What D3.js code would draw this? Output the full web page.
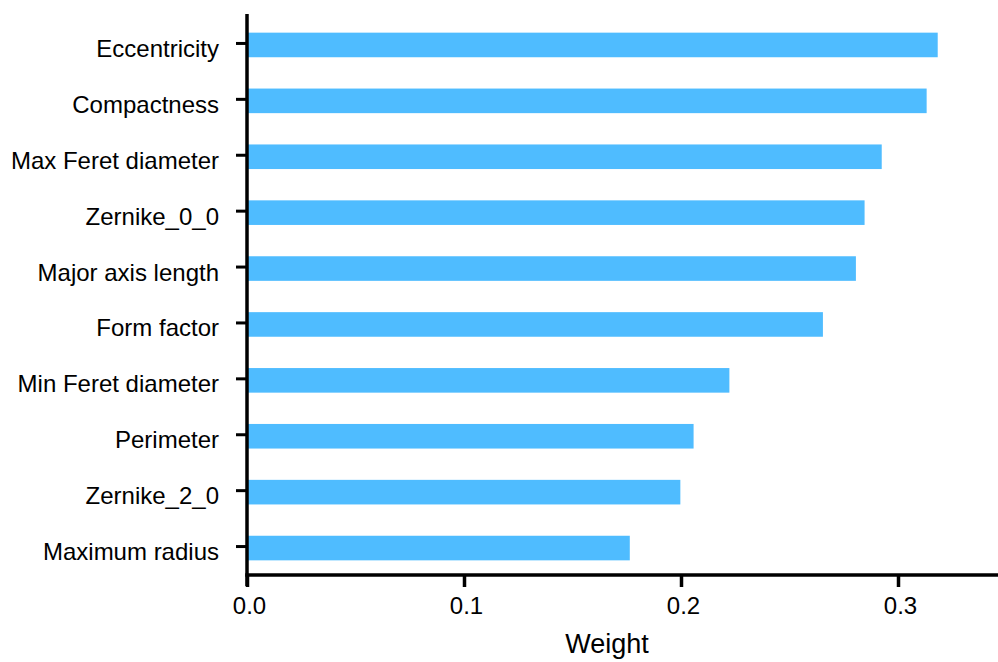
<!DOCTYPE html>
<html>
<head>
<meta charset="utf-8">
<script src="https://cdn.jsdelivr.net/npm/d3@7"></script>
<style>
  body { margin: 0; background: #fff; }
  text { font-family: "Liberation Sans", Arial, sans-serif; fill: #000; }
</style>
</head>
<body>
<div id="chart"></div>
<script>
// feature names, top to bottom
const features = ["Eccentricity", "Compactness", "Max Feret diameter", "Zernike_0_0",
  "Major axis length", "Form factor", "Min Feret diameter", "Perimeter",
  "Zernike_2_0", "Maximum radius"];
const weights = [0.3183, 0.3132, 0.2925, 0.2846, 0.2806, 0.2654, 0.2223, 0.2058, 0.1997, 0.1764];
const xTicks = [0.0, 0.1, 0.2, 0.3];

const width = 998, height = 662;
const plotLeft = 247, plotRight = 998, plotTop = 17, plotBottom = 576;

const svg = d3.select('#chart').append('svg')
    .attr('width', width)
    .attr('height', height);

const x = d3.scaleLinear().domain([0, 0.3]).range([plotLeft, 898]);
const y = d3.scaleBand().domain(features).range([plotTop, plotBottom])
    .paddingInner(0.56).paddingOuter(0.28);

// bars
svg.append('g').selectAll('rect')
    .data(features)
    .enter().append('rect')
    .attr('x', x(0))
    .attr('y', d => y(d))
    .attr('width', (d, i) => x(weights[i]) - x(0))
    .attr('height', y.bandwidth())
    .attr('fill', '#4fbcff');

// y axis
const yAxis = svg.append('g')
    .attr('transform', `translate(${plotLeft},0)`)
    .call(d3.axisLeft(y).tickSize(11).tickPadding(17));
yAxis.select('.domain').remove();
yAxis.selectAll('.tick line').attr('stroke', '#000').attr('stroke-width', 3)
    .attr('transform', 'translate(0,-1.5)');
yAxis.selectAll('.tick text')
    .attr('font-size', 24)
    .attr('dy', '0.5em')
    .attr('font-family', '"Liberation Sans", Arial, sans-serif');
svg.append('line')
    .attr('x1', plotLeft).attr('x2', plotLeft)
    .attr('y1', 14).attr('y2', 586)
    .attr('stroke', '#000').attr('stroke-width', 3.5);

// x axis
const xAxis = svg.append('g')
    .attr('transform', `translate(0,${plotBottom - 1})`)
    .call(d3.axisBottom(x).tickValues(xTicks).tickFormat(d3.format('.1f')).tickSize(12).tickPadding(10));
xAxis.select('.domain').remove();
xAxis.selectAll('.tick line').attr('stroke', '#000').attr('stroke-width', 3.5);
xAxis.selectAll('.tick text')
    .attr('font-size', 24)
    .attr('dx', 2)
    .attr('font-family', '"Liberation Sans", Arial, sans-serif');
svg.append('line')
    .attr('x1', plotLeft - 1.75).attr('x2', plotRight)
    .attr('y1', plotBottom - 1).attr('y2', plotBottom - 1)
    .attr('stroke', '#000').attr('stroke-width', 3.5);

svg.append('text')
    .attr('x', 607)
    .attr('y', 653)
    .attr('text-anchor', 'middle')
    .attr('font-size', 27)
    .text('Weight');
</script>
</body>
</html>
